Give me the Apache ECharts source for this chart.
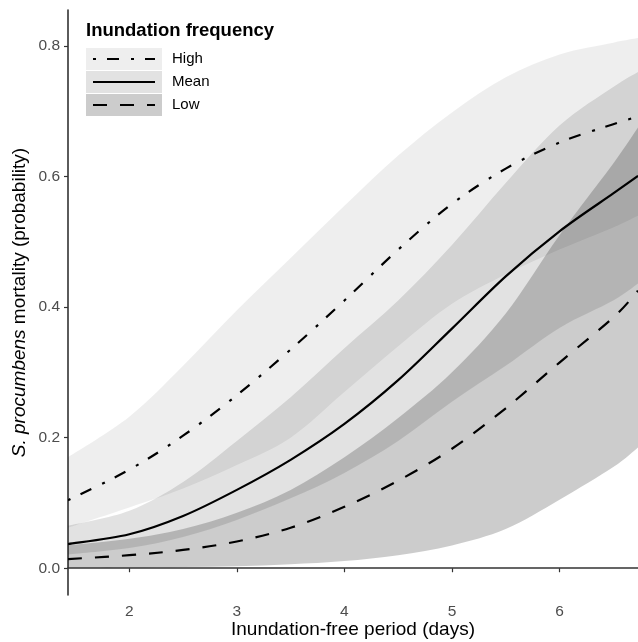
<!DOCTYPE html>
<html>
<head>
<meta charset="utf-8">
<script src="https://cdn.jsdelivr.net/npm/echarts@6/dist/echarts.min.js"></script>
<style>html,body{margin:0;padding:0;background:#fff}#c{width:638px;height:642px}</style>
</head>
<body>
<div id="c"></div>
<script>
// ---- data ----
const xValues   = [1.43, 2, 2.5, 3, 3.5, 4, 4.5, 5, 5.5, 6, 6.5, 6.73];
const highFit   = [0.104, 0.151, 0.203, 0.265, 0.335, 0.41, 0.488, 0.558, 0.612, 0.652, 0.68, 0.692];
const highLower = [0.062, 0.093, 0.122, 0.158, 0.2, 0.27, 0.34, 0.405, 0.45, 0.488, 0.522, 0.54];
const highUpper = [0.17, 0.232, 0.31, 0.395, 0.475, 0.555, 0.632, 0.698, 0.752, 0.787, 0.805, 0.812];
const meanFit   = [0.037, 0.052, 0.08, 0.12, 0.166, 0.221, 0.288, 0.367, 0.447, 0.516, 0.574, 0.601];
const meanLower = [0.021, 0.031, 0.048, 0.074, 0.107, 0.146, 0.195, 0.255, 0.31, 0.368, 0.41, 0.436];
const meanUpper = [0.065, 0.088, 0.132, 0.195, 0.262, 0.337, 0.41, 0.495, 0.59, 0.678, 0.737, 0.76];
const lowFit    = [0.014, 0.02, 0.028, 0.041, 0.062, 0.094, 0.134, 0.183, 0.245, 0.315, 0.384, 0.425];
const lowLower  = [0.001, 0.001, 0.002, 0.003, 0.006, 0.011, 0.02, 0.035, 0.06, 0.105, 0.155, 0.185];
const lowUpper  = [0.035, 0.045, 0.06, 0.085, 0.12, 0.17, 0.23, 0.30, 0.39, 0.51, 0.62, 0.675];
const xTicks    = [2, 3, 4, 5, 6];
const yTicks    = [0, 0.2, 0.4, 0.6, 0.8];
const levels    = ['High', 'Mean', 'Low'];

// ---- helpers ----
const pairs = (ys) => xValues.map((x, i) => [x, ys[i]]);
const FONT = 'Liberation Sans, Arial, Helvetica, sans-serif';

const bandOpacity = { High: 0.067, Mean: 0.115, Low: 0.2 };
const bands = { High: [highLower, highUpper], Mean: [meanLower, meanUpper], Low: [lowLower, lowUpper] };
const fits = { High: highFit, Mean: meanFit, Low: lowFit };
const dashes = { High: [3, 11, 12, 12], Mean: null, Low: [14, 13] };
const keyFill = { High: '#eeeeee', Mean: '#e2e2e2', Low: '#cccccc' };
const LW = 2.2;

// Catmull-Rom spline through pixel points -> SVG path segments
function curveSegs(p) {
  let d = '';
  for (let i = 0; i < p.length - 1; i++) {
    const p0 = p[i - 1] || p[i], p1 = p[i], p2 = p[i + 1], p3 = p[i + 2] || p[i + 1];
    const c1 = [p1[0] + (p2[0] - p0[0]) / 6, p1[1] + (p2[1] - p0[1]) / 6];
    const c2 = [p2[0] - (p3[0] - p1[0]) / 6, p2[1] - (p3[1] - p1[1]) / 6];
    d += ' C' + c1[0] + ',' + c1[1] + ' ' + c2[0] + ',' + c2[1] + ' ' + p2[0] + ',' + p2[1];
  }
  return d;
}

function bandSeries(level) {
  const [lo, up] = bands[level];
  return {
    name: level + ' band', type: 'custom', silent: true, z: 1, clip: true,
    data: xValues.map((x, i) => [x, lo[i], up[i]]),
    encode: { x: 0, y: [1, 2] },
    renderItem: (params, api) => {
      if (params.dataIndex !== 0) return null;
      const upPts = xValues.map((x, i) => api.coord([x, up[i]]));
      const loPts = xValues.map((x, i) => api.coord([x, lo[i]])).reverse();
      const d = 'M' + upPts[0].join(',') + curveSegs(upPts) +
                ' L' + loPts[0].join(',') + curveSegs(loPts) + ' Z';
      return {
        type: 'path', shape: { pathData: d },
        style: { fill: 'rgba(0,0,0,' + bandOpacity[level] + ')', stroke: null }
      };
    }
  };
}

function fitSeries(level) {
  return {
    name: level, type: 'custom', silent: true, z: 3, clip: true,
    data: pairs(fits[level]),
    encode: { x: 0, y: 1 },
    renderItem: (params, api) => {
      if (params.dataIndex !== 0) return null;
      const pts = xValues.map((x, i) => api.coord([x, fits[level][i]]));
      return {
        type: 'path', shape: { pathData: 'M' + pts[0].join(',') + curveSegs(pts) },
        style: { fill: null, stroke: '#000', lineWidth: LW, lineDash: dashes[level], lineCap: 'butt' }
      };
    }
  };
}

const series = levels.map(bandSeries).concat(levels.map(fitSeries));

// legend (ggplot-style keys: band fill + line sample)
const legendGraphics = [{
  type: 'text', left: 86, top: 21, z: 5,
  style: { text: 'Inundation frequency', font: 'bold 18.5px ' + FONT, fill: '#000' }
}];
levels.forEach((l, i) => {
  const top = 48 + i * 23;
  legendGraphics.push({ type: 'rect', x: 86, y: top, z: 4,
    shape: { x: 0, y: 0, width: 76, height: 22 }, style: { fill: keyFill[l] } });
  legendGraphics.push({ type: 'line', x: 0, y: 0, z: 5,
    shape: { x1: 93, y1: top + 11, x2: 155, y2: top + 11 },
    style: { stroke: '#000', lineWidth: LW, lineDash: dashes[l], lineCap: 'butt' } });
  legendGraphics.push({ type: 'text', x: 172, y: top + 11, z: 5,
    style: { text: l, font: '15px ' + FONT, fill: '#000', textVerticalAlign: 'middle', verticalAlign: 'middle' } });
});

const chart = echarts.init(document.getElementById('c'), null, { renderer: 'canvas' });
chart.setOption({
  animation: false,
  backgroundColor: '#fff',
  textStyle: { fontFamily: FONT },
  graphic: legendGraphics,
  grid: { left: 68, right: 0, top: 10, bottom: 47, containLabel: false, outerBoundsMode: 'none' },
  xAxis: {
    type: 'value', min: 1.43, max: 6.73,
    name: 'Inundation-free period (days)', nameLocation: 'middle', nameGap: 25, nameMoveOverlap: false,
    nameTextStyle: { fontFamily: FONT, fontSize: 19, color: '#000' },
    axisLine: { show: true, lineStyle: { color: '#333', width: 1.6 } },
    axisTick: { show: true, length: 4, customValues: xTicks, lineStyle: { color: '#333', width: 1.2 } },
    axisLabel: { customValues: xTicks, fontFamily: FONT, fontSize: 15.5, color: '#4d4d4d', margin: 9,
      formatter: v => String(v) },
    splitLine: { show: false }
  },
  yAxis: {
    type: 'value', min: -0.041, max: 0.855,
    name: '{i|S. procumbens} mortality (probability)', nameLocation: 'middle', nameGap: 39, nameRotate: 90,
    nameMoveOverlap: false,
    nameTextStyle: { fontFamily: FONT, fontSize: 19, color: '#000',
      rich: { i: { fontFamily: FONT, fontSize: 19, fontStyle: 'italic', color: '#000' } } },
    axisLine: { show: true, lineStyle: { color: '#333', width: 1.6 } },
    axisTick: { show: true, length: 4, customValues: yTicks, lineStyle: { color: '#333', width: 1.2 } },
    axisLabel: { customValues: yTicks, fontFamily: FONT, fontSize: 15.5, color: '#4d4d4d', margin: 8,
      formatter: v => v.toFixed(1) },
    splitLine: { show: false }
  },
  series: series
});
</script>
</body>
</html>
